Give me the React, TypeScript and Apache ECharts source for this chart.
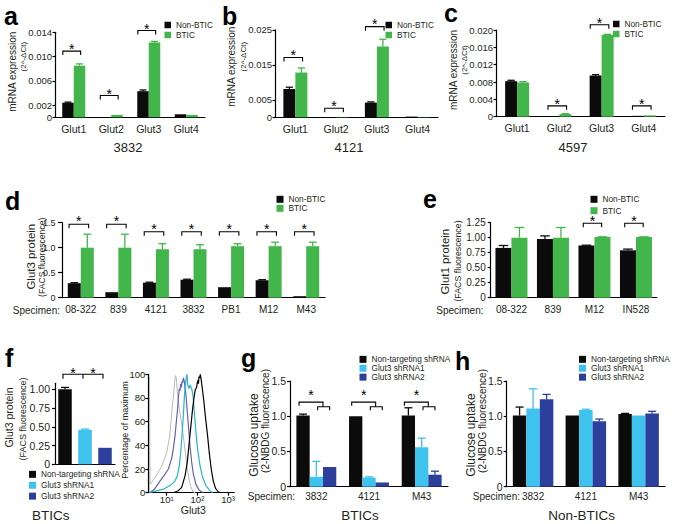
import React, { useEffect, useRef } from 'react';
import * as echarts from 'echarts';

const FONT = '"Liberation Sans", Arial, Helvetica, sans-serif';
const BLACK = '#0b0b0b';
const GREEN = '#42b64a';
const LIGHT = '#3ec2ee';
const DARK = '#2c3f9c';
const TEXT = '#231f20';

// ---- panels a, b, c : mRNA expression (2^-dCt)
const glutCats = ['Glut1', 'Glut2', 'Glut3', 'Glut4'];
const aNon = [0.0024, 0, 0.0043, 0.0005];
const aNonErr = [0.0001, 0, 0.0002, 0];
const aBtic = [0.0085, 0.0004, 0.0123, 0.0004];
const aBticErr = [0.0003, 0, 0.0002, 0];
const aSig = [[0, 0.0109], [1, 0.0036], [2, 0.0143]];
const aTicks = [0, 0.002, 0.006, 0.01, 0.014];

const bNon = [0.0081, 0.00005, 0.0042, 0.0002];
const bNonErr = [0.0005, 0, 0.0002, 0];
const bBtic = [0.0128, 0.0001, 0.0202, 0.0001];
const bBticErr = [0.0013, 0, 0.0021, 0];
const bSig = [[0, 0.0171], [1, 0.0026], [2, 0.0259]];
const bTicks = [0, 0.005, 0.015, 0.025];

const cNon = [0.0082, 0.0001, 0.0095, 0.0002];
const cNonErr = [0.0002, 0, 0.0002, 0];
const cBtic = [0.0079, 0.0006, 0.0189, 0.0003];
const cBticErr = [0.0002, 0.0001, 0.0001, 0];
const cSig = [[1, 0.0025], [2, 0.0212], [3, 0.0025]];
const cTicks = [0, 0.004, 0.008, 0.012, 0.016, 0.02];

// ---- panel d : Glut3 protein
const dCats = ['08-322', '839', '4121', '3832', 'PB1', 'M12', 'M43'];
const dNon = [0.29, 0.11, 0.3, 0.36, 0.21, 0.35, 0.03];
const dNonErr = [0.01, 0, 0.01, 0.01, 0, 0.01, 0];
const dBtic = [1.0, 1.0, 0.97, 0.97, 1.03, 1.03, 1.03];
const dBticErr = [0.27, 0.27, 0.11, 0.09, 0.05, 0.08, 0.08];
const dSig = [[0, 1.47], [1, 1.47], [2, 1.32], [3, 1.32], [4, 1.32], [5, 1.32], [6, 1.32]];
const dTicks = [0, 0.5, 1.0, 1.5];

// ---- panel e : Glut1 protein
const eCats = ['08-322', '839', 'M12', 'IN528'];
const eNon = [0.83, 0.98, 0.87, 0.79];
const eNonErr = [0.04, 0.05, 0.005, 0.02];
const eBtic = [1.0, 1.0, 1.01, 1.01];
const eBticErr = [0.17, 0.17, 0.005, 0.005];
const eSig = [[2, 1.24], [3, 1.24]];
const eTicks = [0, 0.25, 0.5, 0.75, 1.0, 1.25];

// ---- panel f : knockdown
const shNames = ['Non-targeting shRNA', 'Glut3 shRNA1', 'Glut3 shRNA2'];
const fVals = [1.0, 0.46, 0.22];
const fErr = [0.025, 0.01, 0];
const fSig = [[0, 1.2, 2]];
const fTicks = [0, 0.25, 0.5, 0.75, 1.0];

// ---- panel f : FACS histogram ([Glut3 fluorescence, % of maximum])
const histGray = [[2.74, 0], [2.75, 98], [2.85, 9], [3.0, 7.4], [4.2, 13], [6.1, 20], [7.8, 26], [10, 34], [12.2, 46], [13.8, 60], [15.3, 74], [16.4, 80], [17.7, 91], [19.1, 99], [20.5, 97], [22.7, 82], [25.7, 71], [29.9, 60], [34.7, 48], [40.3, 34], [46.8, 20], [54.3, 10], [63, 4], [73, 0.6], [85, 0]];
const histShRNA2 = [[2.9, 0.3], [4, 3], [6.1, 10], [8.5, 15], [11.3, 20], [13, 25], [14.5, 29], [16.4, 37], [18.6, 48], [21.1, 63], [22.5, 70], [23.9, 80], [25.7, 88], [27, 86], [28.5, 92], [30, 89], [31.4, 94], [33, 93], [34.7, 97], [36.5, 95], [38.3, 92], [42.4, 82], [46.8, 68], [51.7, 54], [57, 40], [64.7, 26], [73.3, 16], [89, 7], [115, 2], [155, 0]];
const histShRNA1 = [[2.9, 0.3], [7.8, 3], [14.5, 7], [18.6, 10], [22.1, 14], [25.7, 23], [28.5, 34], [31.4, 48], [34.7, 65], [37.4, 80], [40.3, 91], [43.4, 98], [45.6, 100], [47.5, 93], [49.2, 90], [54.3, 88], [57, 91], [60, 90], [66.2, 87], [73.3, 80], [80.9, 65], [89.3, 51], [101, 37], [121, 23], [147, 13], [189, 6], [255, 1.7], [310, 0]];
const histNT = [[16.4, 0], [23.9, 1.7], [30.6, 4.5], [39.3, 14], [46.8, 26], [54.3, 43], [61.5, 57], [69.7, 71], [76.9, 80], [85, 87], [94, 89], [99, 93], [104, 95], [108, 92], [112, 98], [118, 97], [124, 100], [133, 95], [144, 88], [162, 77], [184, 63], [214, 48], [242, 34], [281, 20], [327, 10], [389, 3.7], [474, 0.8], [565, 0]];
const histDecades = [1, 2, 3];

// ---- panels g, h : glucose uptake
const ghCats = ['3832', '4121', 'M43'];
const gNT = [1.01, 1.0, 1.01];
const gNTErr = [0.02, 0, 0.11];
const gSh1 = [0.14, 0.13, 0.56];
const gSh1Err = [0.22, 0.01, 0.13];
const gSh2 = [0.28, 0.06, 0.17];
const gSh2Err = [0, 0, 0.05];
const gSig = [[0, 1.2, 1.135], [1, 1.2, 1.135], [2, 1.2, 1.135]];

const hNT = [1.01, 1.01, 1.03];
const hNTErr = [0.12, 0, 0.01];
const hSh1 = [1.11, 1.09, 1.01];
const hSh1Err = [0.28, 0.01, 0];
const hSh2 = [1.24, 0.93, 1.04];
const hSh2Err = [0.07, 0.03, 0.03];
const ghTicks = [0, 0.5, 1.0, 1.5];

const fmt = (d: number) => (v: number) => (Math.abs(v) < 1e-9 ? '0' : v.toFixed(d));
const toLog = (pts: number[][]) => pts.map((p) => [Math.log10(p[0]), p[1]]);

function yAxisDef(gi: number, max: number, ticks: number[], digits: number, fontSize = 10, margin = 5, tickLen = 3) {
  return {
    type: 'value', gridIndex: gi, min: 0, max,
    splitLine: { show: false },
    axisLine: { show: true, lineStyle: { color: '#000', width: 1.2 } },
    axisTick: { show: true, length: tickLen, customValues: ticks, lineStyle: { color: '#000', width: 1.2 } },
    axisLabel: { customValues: ticks, formatter: fmt(digits), fontSize, color: TEXT, margin, fontFamily: FONT, showMinLabel: true, showMaxLabel: true },
  };
}

function catAxisDef(gi: number, cats: string[], fontSize: number, margin: number, show = true) {
  return {
    type: 'category', gridIndex: gi, data: cats,
    axisLine: { show: true, lineStyle: { color: '#000', width: 1.2 } },
    axisTick: { show: false },
    axisLabel: { show, interval: 0, fontSize, color: TEXT, margin, fontFamily: FONT },
  };
}

function bar(name: string, gi: number, data: any[], color: string, bw: number, stack?: string) {
  return {
    type: 'bar', name, xAxisIndex: gi, yAxisIndex: gi, data, barWidth: bw, barGap: '0%',
    stack, itemStyle: { color }, silent: true, z: 2,
  };
}

function errBars(gi: number, vals: number[], errs: number[], off: number, bw: number, color: string) {
  return {
    type: 'custom', name: 'err', xAxisIndex: gi, yAxisIndex: gi, silent: true, z: 3, clip: false,
    encode: { x: 0, y: 1 },
    data: vals.map((v, i) => [i, v, errs[i]]),
    renderItem: (params: any, api: any) => {
      const i = api.value(0), v = api.value(1), e = api.value(2);
      if (!e) return null;
      const p0 = api.coord([i, v]);
      const p1 = api.coord([i, v + e]);
      const x = p0[0] + off * bw;
      const cap = bw * 0.3;
      return {
        type: 'group', children: [
          { type: 'line', shape: { x1: x, y1: p0[1], x2: x, y2: p1[1] }, style: { stroke: color, lineWidth: 1.3 } },
          { type: 'line', shape: { x1: x - cap, y1: p1[1], x2: x + cap, y2: p1[1] }, style: { stroke: color, lineWidth: 1.3 } },
        ],
      };
    },
  };
}

function star(x: number, y: number, size = 14) {
  return {
    type: 'text', x, y: y + size * 0.23,
    style: { text: '*', fontSize: size, fontFamily: FONT, fill: '#000', align: 'center', verticalAlign: 'middle' },
  };
}

function sigPairs(gi: number, items: number[][], bw: number, l: number, r: number, tick: number, up: number) {
  return {
    type: 'custom', name: 'sig', xAxisIndex: gi, yAxisIndex: gi, silent: true, z: 5, clip: false,
    encode: { x: 0, y: 1 },
    data: items,
    renderItem: (params: any, api: any) => {
      const p = api.coord([api.value(0), api.value(1)]);
      const x1 = p[0] + l * bw, x2 = p[0] + r * bw, y = p[1];
      return {
        type: 'group', children: [
          { type: 'polyline', shape: { points: [[x1, y + tick], [x1, y], [x2, y], [x2, y + tick]] }, style: { stroke: '#000', lineWidth: 1.1, fill: 'none' } },
          star((x1 + x2) / 2, y - up),
        ],
      };
    },
  };
}

function sigSpan(gi: number, items: number[][]) {
  return {
    type: 'custom', name: 'sig', xAxisIndex: gi, yAxisIndex: gi, silent: true, z: 5, clip: false,
    encode: { x: 0, y: 1 },
    data: items,
    renderItem: (params: any, api: any) => {
      const a = api.value(0), lv = api.value(1), b = api.value(2);
      const p0 = api.coord([a, lv]);
      const p1 = api.coord([(a + b) / 2, lv]);
      const p2 = api.coord([b, lv]);
      const x0 = p0[0] - 2, xm = p1[0] - 2, x2 = p2[0] - 2, y = p0[1];
      const t = 4.5;
      return {
        type: 'group', children: [
          { type: 'polyline', shape: { points: [[x0, y + t], [x0, y], [x2, y], [x2, y + t]] }, style: { stroke: '#000', lineWidth: 1.1, fill: 'none' } },
          { type: 'line', shape: { x1: xm, y1: y, x2: xm, y2: y + t }, style: { stroke: '#000', lineWidth: 1.1 } },
          star((x0 + xm) / 2, y - 4.5),
          star((xm + x2) / 2, y - 4.5),
        ],
      };
    },
  };
}

function sigNested(gi: number, items: number[][], bw: number) {
  return {
    type: 'custom', name: 'sig', xAxisIndex: gi, yAxisIndex: gi, silent: true, z: 5, clip: false,
    encode: { x: 0, y: 1 },
    data: items,
    renderItem: (params: any, api: any) => {
      const c = api.coord([api.value(0), api.value(1)]);
      const ys = api.coord([api.value(0), api.value(2)])[1];
      const yl = c[1];
      const x1 = c[0] - 1.3 * bw, x2 = c[0] + 0.5 * bw;
      const s1 = c[0] + 0.1 * bw, s2 = c[0] + 1.0 * bw;
      return {
        type: 'group', children: [
          { type: 'polyline', shape: { points: [[x1, yl + 3.5], [x1, yl], [x2, yl], [x2, ys]] }, style: { stroke: '#000', lineWidth: 1.1, fill: 'none' } },
          { type: 'polyline', shape: { points: [[s1, ys + 3.5], [s1, ys], [s2, ys], [s2, ys + 3.5]] }, style: { stroke: '#000', lineWidth: 1.1, fill: 'none' } },
          star((x1 + x2) / 2, yl - 10),
        ],
      };
    },
  };
}

function legendDef(names: string[], left: number, top: number, pitch: number, size = 7) {
  return {
    data: names, left, top, orient: 'vertical', padding: 0, itemGap: 0,
    itemWidth: size, itemHeight: size, icon: 'rect', selectedMode: false,
    textStyle: { fontSize: 8.3, lineHeight: pitch, color: TEXT, fontFamily: FONT },
  };
}

function txt(text: string, x: number, y: number, size: number, opts: any = {}) {
  return {
    type: 'text', x, y, rotation: opts.rot ? Math.PI / 2 : 0, silent: true,
    style: {
      text, fontSize: size, fontFamily: FONT, fontWeight: opts.bold ? 'bold' : 'normal',
      fill: opts.color || TEXT, align: opts.align || 'center', verticalAlign: 'middle',
    },
  };
}

const supers: Record<number, string> = { 1: '\u00b9', 2: '\u00b2', 3: '\u00b3' };

export default function App() {
  const ref = useRef<HTMLDivElement>(null);
  useEffect(() => {
    if (!ref.current) return;
    const chart = echarts.init(ref.current, undefined, { renderer: 'svg' });
    const bi = ['Non-BTIC', 'BTIC'];
    const graphics: any[] = [
      // panel letters
      txt('a', 4, 16.3, 25, { bold: true, align: 'left', color: '#000' }),
      txt('b', 222, 16.3, 25, { bold: true, align: 'left', color: '#000' }),
      txt('c', 444, 13.3, 25, { bold: true, align: 'left', color: '#000' }),
      txt('d', 5, 201.3, 25, { bold: true, align: 'left', color: '#000' }),
      txt('e', 423, 199.3, 25, { bold: true, align: 'left', color: '#000' }),
      txt('f', 5, 358.3, 25, { bold: true, align: 'left', color: '#000' }),
      txt('g', 241, 358.3, 25, { bold: true, align: 'left', color: '#000' }),
      txt('h', 455, 361.3, 25, { bold: true, align: 'left', color: '#000' }),
      // y titles
      txt('mRNA expression', 12.7, 71.7, 10, { rot: true }),
      txt('(2^-\u0394Ct)', 23, 56.7, 8, { rot: true }),
      txt('mRNA expression', 231.7, 66.7, 10, { rot: true }),
      txt('(2^-\u0394Ct)', 243, 56.7, 8, { rot: true }),
      txt('mRNA expression', 453.3, 70, 10, { rot: true }),
      txt('(2^-\u0394Ct)', 464, 60, 8, { rot: true }),
      txt('Glut3 protein', 31, 256.7, 11.5, { rot: true }),
      txt('(FACS fluorescence)', 41.5, 257.3, 8.6, { rot: true }),
      txt('Glut1 protein', 445, 261.7, 11.5, { rot: true }),
      txt('(FACS fluorescence)', 457.5, 261, 8.8, { rot: true }),
      txt('Glut3 protein', 9, 417.5, 10.5, { rot: true }),
      txt('(FACS fluorescence)', 22.5, 419, 9, { rot: true }),
      txt('Percentage of maximum', 125, 430, 9, { rot: true }),
      txt('Glucose uptake', 253.5, 435, 12, { rot: true }),
      txt('(2-NBDG fluorescence)', 265, 421, 10, { rot: true }),
      txt('Glucose uptake', 470.5, 435, 12, { rot: true }),
      txt('(2-NBDG fluorescence)', 482, 421, 10, { rot: true }),
      // cell line captions
      txt('3832', 128, 147, 13),
      txt('4121', 349, 147, 13),
      txt('4597', 573, 147, 13),
      // specimen prefixes
      txt('Specimen:', 60, 310, 10, { align: 'right' }),
      txt('Specimen:', 483.5, 310, 10, { align: 'right' }),
      txt('Specimen:', 295, 496.7, 10, { align: 'right' }),
      txt('Specimen:', 520, 496.7, 10, { align: 'right' }),
      // histogram x title
      txt('Glut3', 193.3, 510, 10.5),
      // group captions
      txt('BTICs', 50.7, 515, 13.5),
      txt('BTICs', 360, 515, 13.5),
      txt('Non-BTICs', 581.7, 515, 13.5),
    ];
    const option: any = {
      animation: false,
      backgroundColor: '#ffffff',
      textStyle: { fontFamily: FONT },
      grid: [
        { left: 55, top: 32.3, width: 150, height: 85 },
        { left: 275, top: 29.8, width: 163, height: 87.5 },
        { left: 496, top: 30, width: 169, height: 86.7 },
        { left: 62, top: 222.7, width: 263, height: 75 },
        { left: 490.7, top: 222.7, width: 166, height: 75 },
        { left: 55, top: 383.3, width: 60, height: 81 },
        { left: 148.3, top: 374.3, width: 86, height: 118.4 },
        { left: 290, top: 381, width: 158, height: 105.7 },
        { left: 506.7, top: 381, width: 158.3, height: 105.7 },
      ],
      xAxis: [
        catAxisDef(0, glutCats, 10.5, 6),
        catAxisDef(1, glutCats, 10.5, 6),
        catAxisDef(2, glutCats, 10.5, 6),
        catAxisDef(3, dCats, 10, 7),
        catAxisDef(4, eCats, 10, 7),
        catAxisDef(5, shNames, 10, 6, false),
        {
          type: 'value', gridIndex: 6, min: 0.4, max: 3.2,
          splitLine: { show: false },
          axisLine: { show: true, lineStyle: { color: '#000', width: 1.2 } },
          axisTick: { show: true, length: 3, customValues: histDecades, lineStyle: { color: '#000', width: 1.2 } },
          axisLabel: { show: false },
        },
        catAxisDef(7, ghCats, 10, 4.5),
        catAxisDef(8, ghCats, 10, 4.5),
      ],
      yAxis: [
        yAxisDef(0, 0.014, aTicks, 3, 9.5, 3, 2.5),
        yAxisDef(1, 0.025, bTicks, 3, 9.5, 3, 2.5),
        yAxisDef(2, 0.02, cTicks, 3, 9.5, 3, 2.5),
        yAxisDef(3, 1.5, dTicks, 1, 9, 6.5, 4),
        yAxisDef(4, 1.25, eTicks, 2, 10, 5, 3),
        yAxisDef(5, 1.08, fTicks, 2, 10.5, 5, 3),
        {
          type: 'value', gridIndex: 6, min: 0, max: 100, interval: 20,
          splitLine: { show: false },
          axisLine: { show: true, lineStyle: { color: '#000', width: 1.2 } },
          axisTick: { show: true, length: 3, lineStyle: { color: '#000', width: 1.2 } },
          axisLabel: { fontSize: 9.5, color: TEXT, margin: 3, fontFamily: FONT },
        },
        yAxisDef(7, 1.5, ghTicks, 1, 10.5, 4, 3),
        yAxisDef(8, 1.5, ghTicks, 1, 10.5, 4, 3),
      ],
      legend: [
        legendDef(bi, 164.5, 20, 10, 6.5),
        legendDef(bi, 385.5, 20, 10, 6.5),
        legendDef(bi, 613, 19, 10, 6.5),
        legendDef(bi, 276.5, 194.8, 9),
        legendDef(bi, 590.5, 193.6, 11.4),
        legendDef(shNames, 29, 468.9, 10.9),
        legendDef(shNames, 359.5, 354.9, 8.9),
        legendDef(shNames, 579, 354.9, 8.9),
      ],
      series: [
        // a
        bar('Non-BTIC', 0, aNon, BLACK, 11.5), bar('BTIC', 0, aBtic, GREEN, 11.5),
        errBars(0, aNon, aNonErr, -0.5, 11.5, BLACK), errBars(0, aBtic, aBticErr, 0.5, 11.5, GREEN),
        sigPairs(0, aSig, 11.5, -0.95, 0.6, 4, 5),
        // b
        bar('Non-BTIC', 1, bNon, BLACK, 12), bar('BTIC', 1, bBtic, GREEN, 12),
        errBars(1, bNon, bNonErr, -0.5, 12, BLACK), errBars(1, bBtic, bBticErr, 0.5, 12, GREEN),
        sigPairs(1, bSig, 12, -0.95, 0.6, 4, 5.5),
        // c
        bar('Non-BTIC', 2, cNon, BLACK, 12), bar('BTIC', 2, cBtic, GREEN, 12),
        errBars(2, cNon, cNonErr, -0.5, 12, BLACK), errBars(2, cBtic, cBticErr, 0.5, 12, GREEN),
        sigPairs(2, cSig, 12, -0.95, 0.6, 4, 5),
        // d
        bar('Non-BTIC', 3, dNon, BLACK, 13), bar('BTIC', 3, dBtic, GREEN, 13),
        errBars(3, dNon, dNonErr, -0.5, 13, BLACK), errBars(3, dBtic, dBticErr, 0.5, 13, GREEN),
        sigPairs(3, dSig, 13, -0.9, 0.6, 4, 6),
        // e
        bar('Non-BTIC', 4, eNon, BLACK, 16), bar('BTIC', 4, eBtic, GREEN, 16),
        errBars(4, eNon, eNonErr, -0.5, 16, BLACK), errBars(4, eBtic, eBticErr, 0.5, 16, GREEN),
        sigPairs(4, eSig, 16, -0.7, 0.45, 4, 5.5),
        // f bars
        bar(shNames[0], 5, [fVals[0], '-', '-'], BLACK, 13.5, 'f'),
        bar(shNames[1], 5, ['-', fVals[1], '-'], LIGHT, 13.5, 'f'),
        bar(shNames[2], 5, ['-', '-', fVals[2]], DARK, 13.5, 'f'),
        errBars(5, [fVals[0], 0, 0], [fErr[0], 0, 0], 0, 13.5, BLACK),
        errBars(5, [0, fVals[1], 0], [0, fErr[1], 0], 0, 13.5, LIGHT),
        errBars(5, [0, 0, fVals[2]], [0, 0, fErr[2]], 0, 13.5, DARK),
        sigSpan(5, fSig),
        // f histogram (x on log10 scale)
        { type: 'line', name: 'Control (histogram)', xAxisIndex: 6, yAxisIndex: 6, data: toLog(histGray), showSymbol: false, silent: true, lineStyle: { color: '#b9b9b9', width: 1 }, itemStyle: { color: '#b9b9b9' } },
        { type: 'line', name: 'Glut3 shRNA2 (histogram)', xAxisIndex: 6, yAxisIndex: 6, data: toLog(histShRNA2), showSymbol: false, silent: true, lineStyle: { color: '#6a62ac', width: 1.2 }, itemStyle: { color: '#6a62ac' } },
        { type: 'line', name: 'Glut3 shRNA1 (histogram)', xAxisIndex: 6, yAxisIndex: 6, data: toLog(histShRNA1), showSymbol: false, silent: true, lineStyle: { color: '#27b3d3', width: 1.2 }, itemStyle: { color: '#27b3d3' } },
        { type: 'line', name: 'Non-targeting shRNA (histogram)', xAxisIndex: 6, yAxisIndex: 6, data: toLog(histNT), showSymbol: false, silent: true, lineStyle: { color: '#000', width: 1.2 }, itemStyle: { color: '#000' } },
        // g
        bar(shNames[0], 7, gNT, BLACK, 13.3), bar(shNames[1], 7, gSh1, LIGHT, 13.3), bar(shNames[2], 7, gSh2, DARK, 13.3),
        errBars(7, gNT, gNTErr, -1, 13.3, BLACK), errBars(7, gSh1, gSh1Err, 0, 13.3, LIGHT), errBars(7, gSh2, gSh2Err, 1, 13.3, DARK),
        sigNested(7, gSig, 13.3),
        // h
        bar(shNames[0], 8, hNT, BLACK, 13.5), bar(shNames[1], 8, hSh1, LIGHT, 13.5), bar(shNames[2], 8, hSh2, DARK, 13.5),
        errBars(8, hNT, hNTErr, -1, 13.5, BLACK), errBars(8, hSh1, hSh1Err, 0, 13.5, LIGHT), errBars(8, hSh2, hSh2Err, 1, 13.5, DARK),
      ],
      graphic: graphics,
    };
    chart.setOption(option);
    // decade labels of the histogram's log axis, placed through the axis scale
    const decadeLabels = histDecades.map((d) => {
      const px = chart.convertToPixel({ xAxisIndex: 6 } as any, d) as unknown as number;
      return txt('10' + supers[d], px, 499.5, 9.5);
    });
    chart.setOption({ graphic: graphics.concat(decadeLabels) });
    return () => chart.dispose();
  }, []);
  return (
    <div
      ref={ref}
      style={{ position: 'absolute', left: 0, top: 0, width: 675, height: 524, background: '#fff' }}
    />
  );
}
